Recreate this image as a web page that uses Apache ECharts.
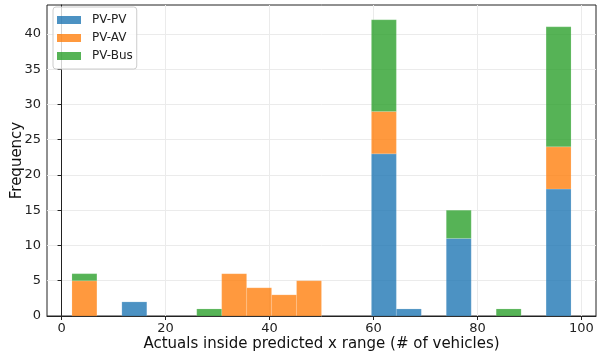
<!DOCTYPE html>
<html><head><meta charset="utf-8">
<script src="https://cdn.jsdelivr.net/npm/echarts@6/dist/echarts.min.js"></script>
<style>html,body{margin:0;padding:0;background:#fff}#c{width:597px;height:358px}</style>
</head><body><div id="c"></div>
<script>
const binStart = 2;
const binWidth = 4.8;
const seriesNames = ['PV-PV', 'PV-AV', 'PV-Bus'];
const pvpv  = [0,0,2,0,0,0,0,0,0,0,0,0,23,1,0,11,0,0,0,18];
const pvav  = [5,0,0,0,0,0,6,4,3,5,0,0,6,0,0,0,0,0,0,6];
const pvbus = [1,0,0,0,0,1,0,0,0,0,0,0,13,0,0,4,0,1,0,17];
const xTicks = [0,20,40,60,80,100];
const yTicks = [0,5,10,15,20,25,30,35,40];
const colors = ['#1f77b4','#ff7f0e','#2ca02c'];

const all = [pvpv, pvav, pvbus];
function makeSeries(idx){
  const data = all[idx].map((v,i)=>{
    let base = 0;
    for(let k=0;k<idx;k++) base += all[k][i];
    const x0 = binStart + i*binWidth;
    return [x0, x0+binWidth, base, base+v];
  }).filter(d=>d[3]>d[2]);
  return {
    name: seriesNames[idx], type:'custom', data: data,
    itemStyle:{color:colors[idx], opacity:0.8},
    encode:{x:[0,1], y:[2,3]},
    renderItem: function(params, api){
      const p0 = api.coord([api.value(0), api.value(3)]);
      const p1 = api.coord([api.value(1), api.value(2)]);
      return {type:'rect', shape:{x:p0[0], y:p0[1], width:p1[0]-p0[0], height:p1[1]-p0[1]},
        style:{fill:colors[idx], opacity:0.8, stroke:'rgba(255,255,255,0.35)', lineWidth:0.5}};
    }
  };
}
const chart = echarts.init(document.getElementById('c'), null, {renderer:'canvas'});
chart.setOption({
  animation:false,
  textStyle:{fontFamily:'DejaVu Sans'},
  grid:{left:47, top:5, right:1, bottom:42, show:true, borderColor:'#222', borderWidth:1, backgroundColor:'transparent', containLabel:false, outerBoundsMode:'none'},
  legend:{
    orient:'vertical', left:53, top:7, data:seriesNames,
    itemWidth:24, itemHeight:8, itemGap:6,
    padding:[7,4,7,4], borderColor:'#ccc', borderWidth:1, borderRadius:3,
    backgroundColor:'rgba(255,255,255,0.8)',
    textStyle:{fontSize:12, color:'#222', fontFamily:'DejaVu Sans', padding:[0,0,0,6]},
    icon:'rect'
  },
  xAxis:{
    type:'value', min:-2.8, max:102.8,
    name:'Actuals inside predicted x range (# of vehicles)', nameLocation:'middle', nameGap:21,
    nameMoveOverlap:false,
    nameTextStyle:{fontSize:15, color:'#111', fontFamily:'DejaVu Sans'},
    axisLine:{show:true, onZero:false, lineStyle:{color:'#222'}},
    axisTick:{show:true, length:4, lineStyle:{color:'#222'}, customValues: xTicks},
    axisLabel:{fontSize:13, color:'#222', margin:6, customValues: xTicks},
    splitLine:{show:true, lineStyle:{color:'#ebebeb'}, customValues: xTicks},
  },
  yAxis:{
    type:'value', min:0, max:44.1,
    name:'Frequency', nameLocation:'middle', nameGap:22, nameRotate:90,
    nameMoveOverlap:false,
    nameTextStyle:{fontSize:15, color:'#111', fontFamily:'DejaVu Sans'},
    axisLine:{show:true, lineStyle:{color:'#222'}},
    axisTick:{show:true, length:4, lineStyle:{color:'#222'}, customValues: yTicks},
    axisLabel:{fontSize:13, color:'#222', margin:6, customValues: yTicks},
    splitLine:{show:true, lineStyle:{color:'#ebebeb'}, customValues: yTicks},
  },
  series:[makeSeries(0), makeSeries(1), makeSeries(2)]
});
</script></body></html>
